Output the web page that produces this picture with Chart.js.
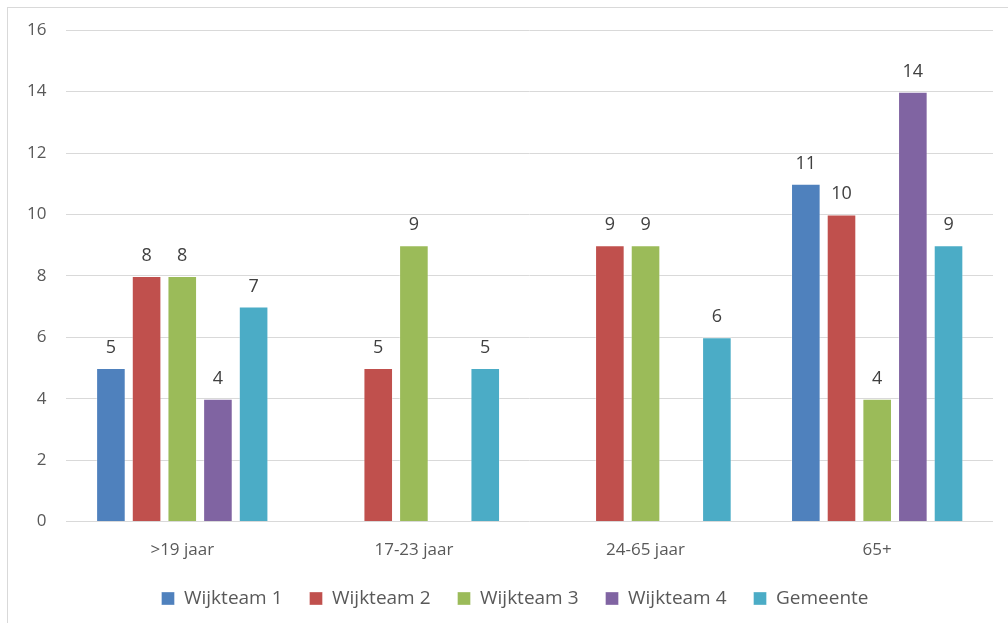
<!DOCTYPE html>
<html>
<head>
<meta charset="utf-8">
<script src="https://cdn.jsdelivr.net/npm/chart.js@4/dist/chart.umd.min.js"></script>
<style>
  body { margin: 0; background: #fff; overflow: hidden; }
  #frame { position: absolute; left: 7px; top: 7px; width: 1010px; height: 630px; border: 1px solid #d9d9d9; }
  #wrap { position: absolute; left: 0; top: 0; width: 1008px; height: 623px; }
</style>
</head>
<body>
<div id="frame"></div>
<div id="wrap"><canvas id="myChart" width="1008" height="623"></canvas></div>
<script>
// categorieen en waarden per wijkteam
var categories = ['>19 jaar', '17-23 jaar', '24-65 jaar', '65+'];
var wijkteam1 = [5, null, null, 11];
var wijkteam2 = [8, 5, 9, 10];
var wijkteam3 = [8, 9, 9, 4];
var wijkteam4 = [4, null, null, 14];
var gemeente = [7, 5, 6, 9];
var seriesNames = ['Wijkteam 1', 'Wijkteam 2', 'Wijkteam 3', 'Wijkteam 4', 'Gemeente'];
var seriesColors = ['#4F81BD', '#C0504D', '#9BBB59', '#8064A2', '#4BACC6'];
var yTicks = [0, 2, 4, 6, 8, 10, 12, 14, 16];

var fontFamily = '"Open Sans", Lato, sans-serif';

// waarden boven de staven schrijven
var valueLabels = {
    id: 'valueLabels',
    afterDatasetsDraw: function(chart) {
        var ctx = chart.ctx;
        ctx.save();
        ctx.fillStyle = '#404040';
        ctx.font = '18px ' + fontFamily;
        ctx.textAlign = 'center';
        ctx.textBaseline = 'alphabetic';
        chart.data.datasets.forEach(function(ds, i) {
            var meta = chart.getDatasetMeta(i);
            meta.data.forEach(function(bar, j) {
                var v = ds.data[j];
                if (v === null || v === undefined) return;
                ctx.fillText(String(v), bar.x, bar.y - 15);
            });
        });
        ctx.restore();
    }
};

// legenda dichter bij de as zetten zonder de tussenruimte te verkleinen
var legendShift = 8;
var legendOffsetX = 15;
var legendTweak = {
    id: 'legendTweak',
    beforeInit: function(chart) {
        var lg = chart.legend;
        if (!lg) return;
        var fit = lg.fit;
        lg.fit = function() {
            fit.apply(this, arguments);
            this.height -= legendShift;
        };
        var draw = lg.draw;
        lg.draw = function() {
            var c = this.ctx;
            c.save();
            c.translate(legendOffsetX, -legendShift);
            draw.apply(this, arguments);
            c.restore();
        };
    }
};

var allSeries = [wijkteam1, wijkteam2, wijkteam3, wijkteam4, gemeente];
var datasets = allSeries.map(function(d, i) {
    return {
        label: seriesNames[i],
        data: d,
        backgroundColor: seriesColors[i],
        borderColor: 'rgba(255,255,255,0.35)',
        borderWidth: 1,
        categoryPercentage: 0.77,
        barPercentage: 0.83
    };
});

var ctx = document.getElementById('myChart').getContext('2d');
var chart = new Chart(ctx, {
    type: 'bar',
    data: { labels: categories, datasets: datasets },
    plugins: [valueLabels, legendTweak],
    options: {
        responsive: false,
        animation: false,
        layout: { padding: { left: 7, right: 15, top: 29, bottom: 5 } },
        plugins: {
            legend: {
                position: 'bottom',
                labels: {
                    boxWidth: 13,
                    boxHeight: 13,
                    padding: 27,
                    color: '#595959',
                    font: { family: fontFamily, size: 19 }
                }
            },
            title: { display: false },
            tooltip: { enabled: false }
        },
        scales: {
            x: {
                grid: { display: false },
                border: { display: false },
                ticks: { color: '#595959', padding: 10, maxRotation: 0, font: { family: fontFamily, size: 17 } }
            },
            y: {
                min: 0,
                max: 16,
                afterBuildTicks: function(axis) {
                    axis.ticks = yTicks.map(function(v) { return { value: v }; });
                },
                grid: { color: '#d9d9d9', drawTicks: false },
                border: { display: false },
                ticks: { color: '#595959', padding: 20, font: { family: fontFamily, size: 17 } }
            }
        }
    }
});
</script>
</body>
</html>
